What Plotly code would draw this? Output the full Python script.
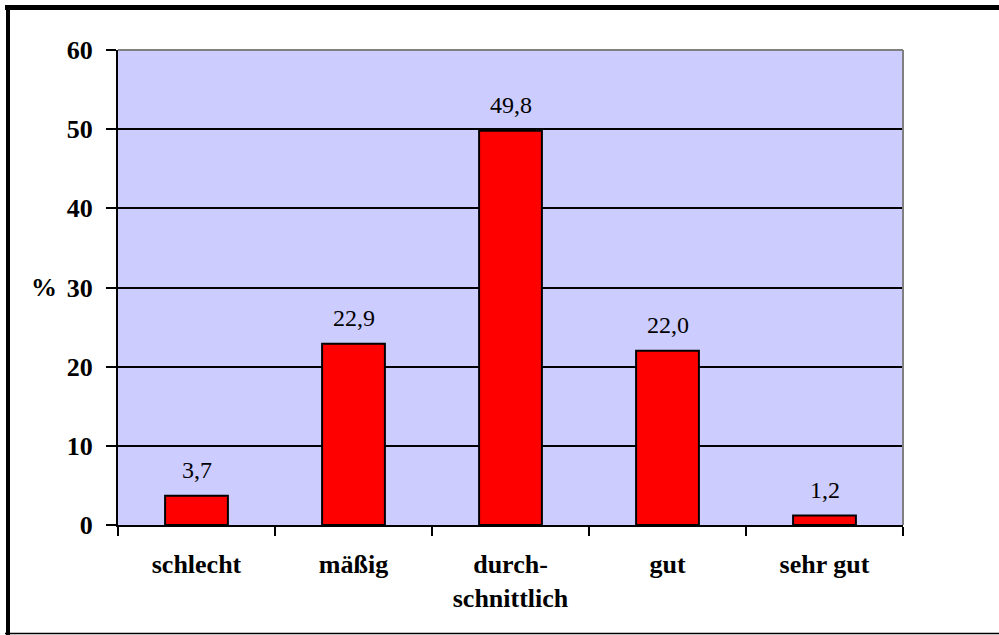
import plotly.graph_objects as go

categories = ["schlecht", "mäßig", "durch-<br>schnittlich", "gut", "sehr gut"]
values = [3.7, 22.9, 49.8, 22.0, 1.2]
y_ticks = [0, 10, 20, 30, 40, 50, 60]

W, H = 999, 635
L, R, T, B = 118, 96, 50, 110
pw, ph = W - L - R, H - T - B
SERIF = "Liberation Serif, Times New Roman, DejaVu Serif, serif"

def px_x(p):
    return (p - L) / pw

def px_y(p):
    return (H - B - p) / ph

fig = go.Figure()
fig.add_trace(go.Bar(
    x=categories, y=values,
    marker=dict(color="#FF0000", line=dict(color="black", width=2)),
    hoverinfo="skip",
))

for c, v in zip(categories, values):
    fig.add_annotation(
        x=c, y=v, xref="x", yref="y",
        text=f"{v:.1f}".replace(".", ","),
        showarrow=False, yanchor="middle", yshift=26,
        font=dict(family=SERIF, size=24, color="black"),
    )

fig.add_annotation(
    x=0, y=30, xref="paper", yref="y", text="<b>%</b>",
    showarrow=False, xanchor="right", xshift=-59,
    font=dict(family=SERIF, size=26, color="black"),
)

shapes = [
    dict(type="line", xref="paper", yref="paper", x0=0, x1=1, y0=1, y1=1,
         line=dict(color="#808080", width=2)),
    dict(type="line", xref="paper", yref="paper", x0=1, x1=1, y0=0, y1=1,
         line=dict(color="#808080", width=2)),
    dict(type="line", xref="paper", yref="paper", x0=px_x(5), x1=px_x(999),
         y0=px_y(7.5), y1=px_y(7.5), line=dict(color="black", width=5)),
    dict(type="line", xref="paper", yref="paper", x0=px_x(8), x1=px_x(8),
         y0=px_y(5), y1=px_y(635), line=dict(color="black", width=4)),
    dict(type="line", xref="paper", yref="paper", x0=px_x(5), x1=px_x(999),
         y0=px_y(633.5), y1=px_y(633.5), line=dict(color="black", width=1.5)),
]

fig.update_layout(
    width=W, height=H,
    margin=dict(l=L, r=R, t=T, b=B),
    paper_bgcolor="white",
    plot_bgcolor="#CCCCFF",
    bargap=0.6,
    showlegend=False,
    shapes=shapes,
    font=dict(family=SERIF, size=26, color="black"),
    xaxis=dict(
        showline=True, linecolor="black", linewidth=2,
        ticks="outside", tickson="boundaries", ticklen=9, tickwidth=2, tickcolor="black",
        showgrid=False,
        tickfont=dict(family=SERIF, size=26, color="black", weight="bold"),
        ticklabelstandoff=15,
    ),
    yaxis=dict(
        range=[0, 60], tickvals=y_ticks,
        showline=True, linecolor="black", linewidth=2,
        ticks="outside", ticklen=10, tickwidth=2, tickcolor="black",
        showgrid=True, gridcolor="black", gridwidth=2,
        zeroline=False,
        tickfont=dict(family=SERIF, size=26, color="black", weight="bold"),
        ticklabelstandoff=8,
    ),
)

fig.write_html("out.html", config={"displayModeBar": False},
               post_script="document.body.style.margin='0';")
